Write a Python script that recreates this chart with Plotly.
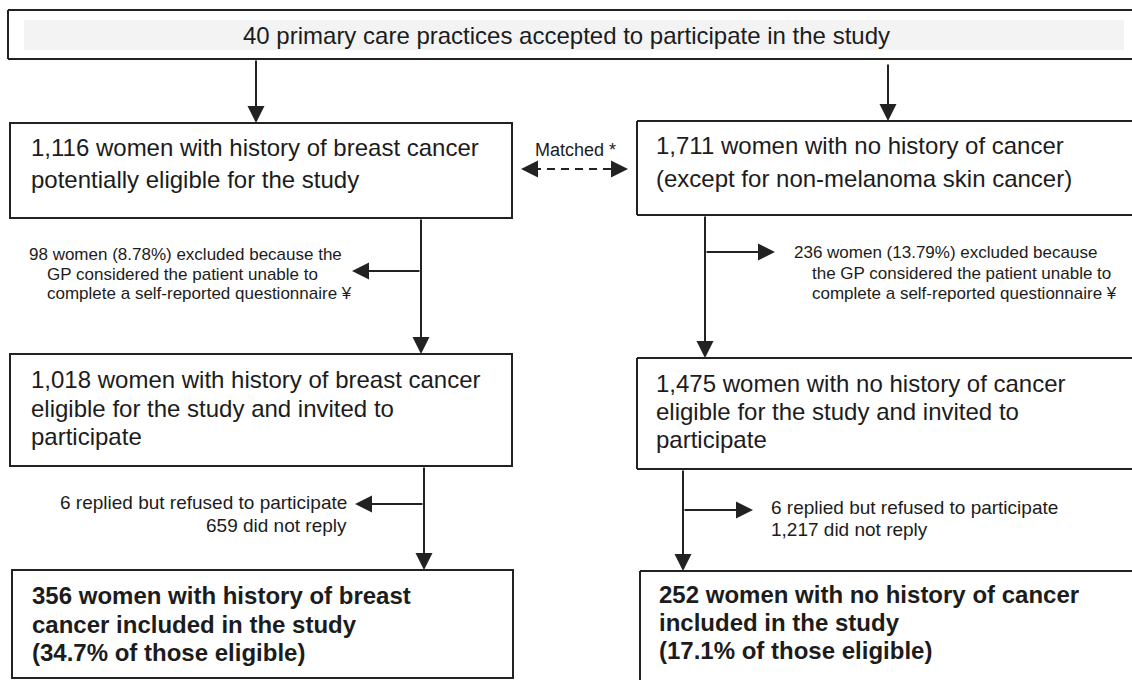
import plotly.graph_objects as go

W, H = 1132, 680

# ---- flowchart content (text data) ----
header_text = ["40 primary care practices accepted to participate in the study"]
bc_potential = ["1,116 women with history of breast cancer",
                "potentially eligible for the study"]
ctrl_potential = ["1,711 women with no history of cancer",
                  "(except for non-melanoma skin cancer)"]
matched_label = ["Matched *"]
bc_excluded = ["98 women (8.78%) excluded because the",
               "GP considered the patient unable to",
               "complete a self-reported questionnaire \u00a5"]
ctrl_excluded = ["236 women (13.79%) excluded because",
                 "the GP considered the patient unable to",
                 "complete a self-reported questionnaire \u00a5"]
bc_invited = ["1,018 women with history of breast cancer",
              "eligible for the study and invited to",
              "participate"]
ctrl_invited = ["1,475 women with no history of cancer",
                "eligible for the study and invited to",
                "participate"]
bc_nonresponse = ["6 replied but refused to participate",
                  "659 did not reply"]
ctrl_nonresponse = ["6 replied but refused to participate",
                    "1,217 did not reply"]
bc_included = ["356 women with history of breast",
               "cancer included in the study",
               "(34.7% of those eligible)"]
ctrl_included = ["252 women with no history of cancer",
                 "included in the study",
                 "(17.1% of those eligible)"]

FONT = "Arial, Liberation Sans, sans-serif"
INK = "#1c1c1c"
EDGE = "#222222"

fig = go.Figure()
shapes = []
annotations = []


def box(x0, y0, x1, y1):
    shapes.append(dict(type="rect", xref="x", yref="y", x0=x0, y0=y0, x1=x1, y1=y1,
                       line=dict(color=EDGE, width=2), fillcolor="rgba(0,0,0,0)"))


def open_box(x0, y0, x1, y1, bottom=True):
    # box running off the right edge of the page: drawn as separate edges
    segs = [(x0, y0, x1, y0), (x0, y0, x0, y1)]
    if bottom:
        segs.append((x0, y1, x1, y1))
    for a, b, c, d in segs:
        shapes.append(dict(type="line", xref="x", yref="y", x0=a, y0=b, x1=c, y1=d,
                           line=dict(color=EDGE, width=2)))


def arrow(x0, y0, x1, y1):
    annotations.append(dict(x=x1, y=y1, ax=x0, ay=y0, xref="x", yref="y",
                            axref="x", ayref="y", text="", showarrow=True,
                            arrowhead=2, arrowsize=1.7, arrowwidth=2,
                            arrowcolor=EDGE, standoff=0))


def lines(texts, x, ys, size, anchor="left", bold=False):
    for t, y in zip(texts, ys):
        annotations.append(dict(x=x, y=y, xref="x", yref="y", showarrow=False,
                                text=("<b>%s</b>" % t) if bold else t,
                                xanchor=anchor, yanchor="middle", borderpad=0,
                                font=dict(family=FONT, size=size, color=INK)))


RIGHT_END = 1300  # page edge is at 1132; right-hand boxes run off it

# header
shapes.append(dict(type="rect", xref="x", yref="y", x0=24, y0=20, x1=1124, y1=50,
                   line=dict(width=0), fillcolor="#f3f3f3"))
open_box(8, 10, RIGHT_END, 59)
lines(header_text, 566, [35], 24, anchor="center")

# level 2
box(10, 123, 512, 218)
open_box(637, 121, RIGHT_END, 215)
lines(bc_potential, 30, [147, 179], 24)
lines(ctrl_potential, 655, [145, 178], 24)
arrow(256, 59, 256, 123)
arrow(888, 63, 888, 121)

# matched
shapes.append(dict(type="line", xref="x", yref="y", x0=533, y0=169, x1=616, y1=169,
                   line=dict(color=EDGE, width=2, dash="8px,6px")))
arrow(536, 169, 521, 169)
arrow(613, 169, 628, 169)
lines(matched_label, 575, [150], 18, anchor="center")

# exclusions
arrow(421, 218, 421, 354)
arrow(421, 271, 352, 271)
lines(bc_excluded[:1], 28, [254], 17)
lines(bc_excluded[1:], 46, [274, 293], 17)

arrow(705, 215, 705, 358)
arrow(705, 252, 775, 252)
lines(ctrl_excluded[:1], 793, [252], 17)
lines(ctrl_excluded[1:], 811, [273, 293], 17)

# level 3
box(10, 354, 512, 466)
open_box(637, 358, RIGHT_END, 469)
lines(bc_invited, 30, [379, 408, 436], 24)
lines(ctrl_invited, 655, [383, 411, 439], 24)

# non-response
arrow(424, 466, 424, 570)
arrow(424, 504, 355, 504)
lines(bc_nonresponse, 348, [502, 525], 19, anchor="right")

arrow(683, 469, 683, 571)
arrow(683, 510, 753, 510)
lines(ctrl_nonresponse, 770, [507, 529], 19)

# level 4
box(12, 570, 513, 678)
open_box(640, 571, RIGHT_END, 700, bottom=False)
lines(bc_included, 31, [595, 624, 652], 24, bold=True)
lines(ctrl_included, 658, [594, 622, 650], 24, bold=True)

fig.update_layout(
    width=W, height=H,
    margin=dict(l=0, r=0, t=0, b=0),
    paper_bgcolor="white", plot_bgcolor="white",
    xaxis=dict(range=[0, W], visible=False, fixedrange=True),
    yaxis=dict(range=[H, 0], visible=False, fixedrange=True),
    shapes=shapes, annotations=annotations,
    showlegend=False,
)

fig.write_html(
    "out.html",
    config={"displayModeBar": False},
    post_script="document.body.style.margin='0';document.body.style.overflow='hidden';",
)
